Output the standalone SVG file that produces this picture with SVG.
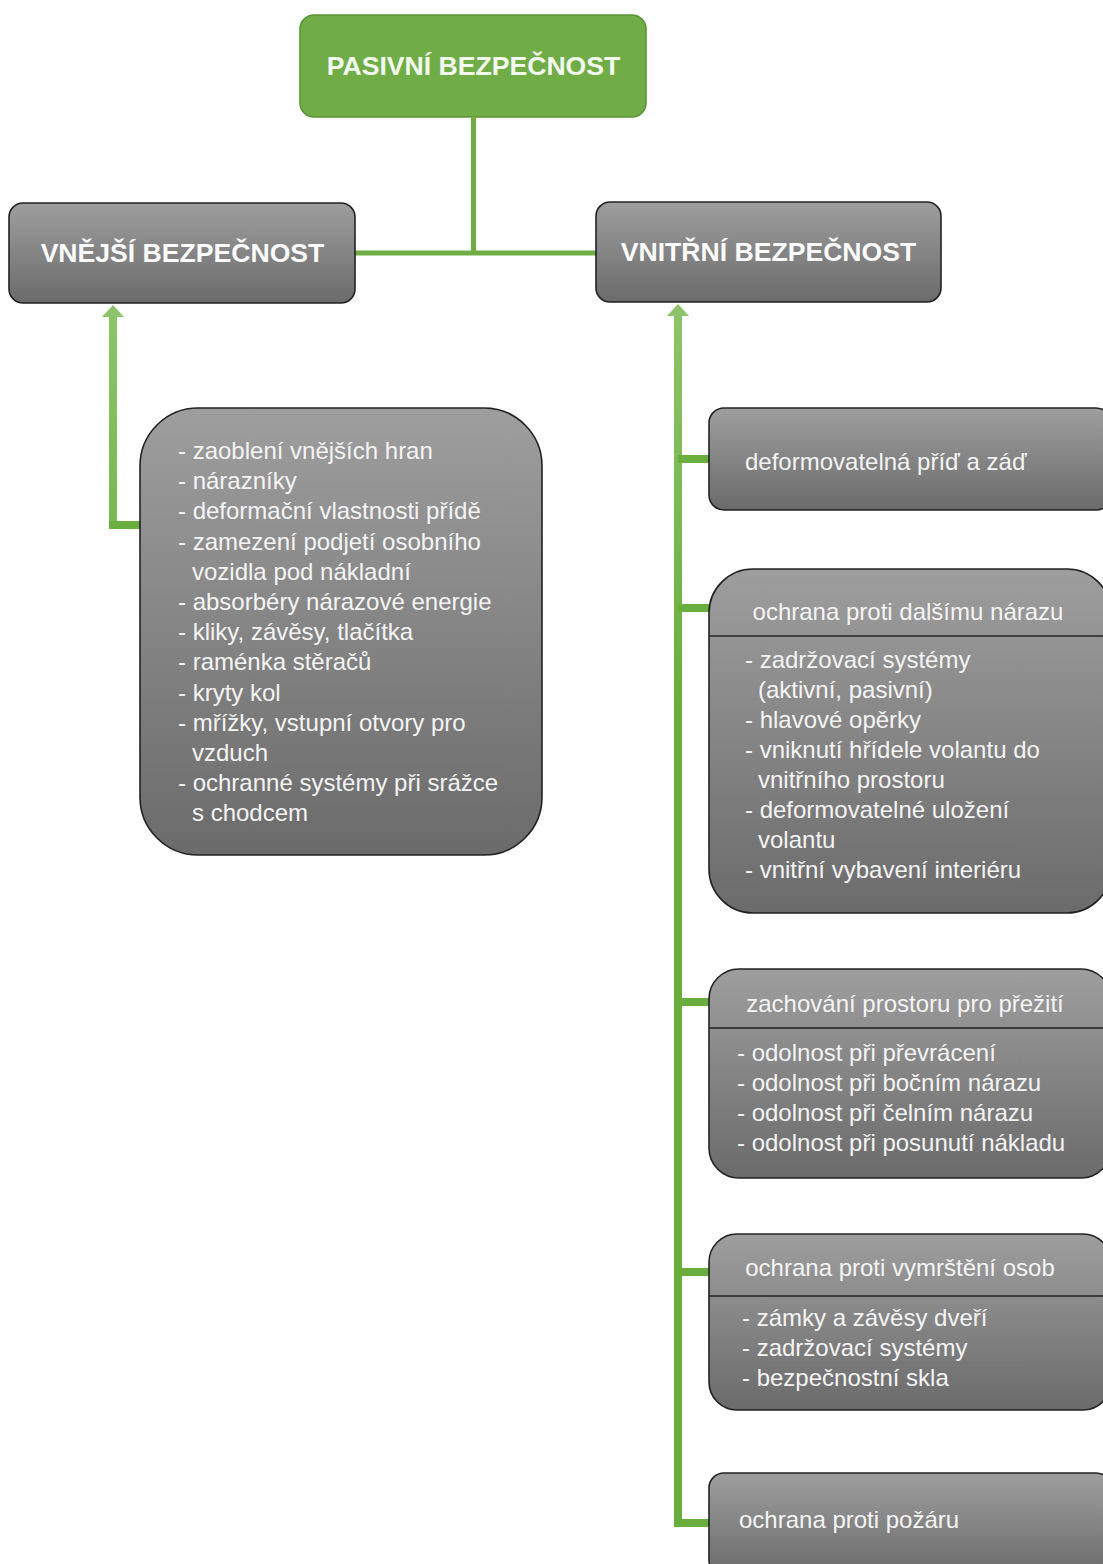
<svg xmlns="http://www.w3.org/2000/svg" width="1103" height="1564" viewBox="0 0 1103 1564">
<defs>
<linearGradient id="gray" x1="0" y1="0" x2="0" y2="1">
<stop offset="0" stop-color="#9e9e9e"/>
<stop offset="1" stop-color="#6b6b6b"/>
</linearGradient>
<linearGradient id="vl" gradientUnits="userSpaceOnUse" x1="0" y1="305" x2="0" y2="700">
<stop offset="0" stop-color="#8dc46b"/>
<stop offset="1" stop-color="#6aae3f"/>
</linearGradient>
</defs>
<style>
.g{fill:url(#gray);stroke:#222;stroke-width:1.6}
.top{fill:#70ad47;stroke:#5b9438;stroke-width:1.6}
.h{font-family:"Liberation Sans",Arial,sans-serif;font-weight:bold;font-size:26.6px;fill:#fbfbfb;text-anchor:middle}
.t{font-family:"Liberation Sans",Arial,sans-serif;font-size:24px;fill:#f4f4f4}
.c{text-anchor:middle}
.div{stroke:#222;stroke-width:1.6}
.ln{fill:none;stroke:#70ad47;stroke-width:5}
.lv{fill:none;stroke:url(#vl);stroke-width:8}
.lh{fill:none;stroke:#6aae3f;stroke-width:8}
.ah{fill:#8dc46b}
</style>

<g id="connectors">
<path class="ln" d="M473.5 118 V253 M355 253 H596"/>
<path class="lv" d="M113 314 V525"/>
<path class="lh" d="M109 525 H141"/>
<polygon class="ah" points="113,305 124,317 102,317"/>
<path class="lv" d="M678 313 V1527"/>
<path class="lh" d="M678 459 H710 M678 608 H710 M678 1002 H710 M678 1272 H710 M674 1523 H710"/>
<polygon class="ah" points="678,304 689,316 667,316"/>
</g>

<g id="pasivni">
<rect class="top" x="300" y="15" width="346" height="102" rx="14"/>
<text class="h" x="473.5" y="75" style="fill:#f3f9ee">PASIVNÍ BEZPEČNOST</text>
</g>

<g id="vnejsi">
<rect class="g" x="9" y="203" width="346" height="100" rx="14"/>
<text class="h" x="182.5" y="262">VNĚJŠÍ BEZPEČNOST</text>
</g>

<g id="vnitrni">
<rect class="g" x="596" y="202" width="345" height="100" rx="14"/>
<text class="h" x="768.5" y="261">VNITŘNÍ BEZPEČNOST</text>
</g>

<g id="vnejsi-list">
<rect class="g" x="140" y="408" width="402" height="447" rx="58"/>
<text class="t" x="178" y="459">- zaoblení vnějších hran</text>
<text class="t" x="178" y="489.2">- nárazníky</text>
<text class="t" x="178" y="519.4">- deformační vlastnosti přídě</text>
<text class="t" x="178" y="549.6">- zamezení podjetí osobního</text>
<text class="t" x="192" y="579.8">vozidla pod nákladní</text>
<text class="t" x="178" y="610">- absorbéry nárazové energie</text>
<text class="t" x="178" y="640.2">- kliky, závěsy, tlačítka</text>
<text class="t" x="178" y="670.4">- raménka stěračů</text>
<text class="t" x="178" y="700.6">- kryty kol</text>
<text class="t" x="178" y="730.8">- mřížky, vstupní otvory pro</text>
<text class="t" x="192" y="761">vzduch</text>
<text class="t" x="178" y="791.2">- ochranné systémy při srážce</text>
<text class="t" x="192" y="821.4">s chodcem</text>
</g>

<g id="deformovatelna">
<rect class="g" x="709" y="408" width="402" height="102" rx="15"/>
<text class="t" x="745" y="470">deformovatelná příď a záď</text>
</g>

<g id="dalsi-naraz">
<rect class="g" x="709" y="569" width="402" height="344" rx="44"/>
<line class="div" x1="709" y1="636" x2="1111" y2="636"/>
<text class="t c" x="908" y="620">ochrana proti dalšímu nárazu</text>
<text class="t" x="745" y="668">- zadržovací systémy</text>
<text class="t" x="758" y="698">(aktivní, pasivní)</text>
<text class="t" x="745" y="728">- hlavové opěrky</text>
<text class="t" x="745" y="758">- vniknutí hřídele volantu do</text>
<text class="t" x="758" y="788">vnitřního prostoru</text>
<text class="t" x="745" y="818">- deformovatelné uložení</text>
<text class="t" x="758" y="848">volantu</text>
<text class="t" x="745" y="878">- vnitřní vybavení interiéru</text>
</g>

<g id="prostor">
<rect class="g" x="709" y="969" width="402" height="209" rx="30"/>
<line class="div" x1="709" y1="1028" x2="1111" y2="1028"/>
<text class="t c" x="905" y="1012">zachování prostoru pro přežití</text>
<text class="t" x="737" y="1061">- odolnost při převrácení</text>
<text class="t" x="737" y="1091">- odolnost při bočním nárazu</text>
<text class="t" x="737" y="1121">- odolnost při čelním nárazu</text>
<text class="t" x="737" y="1151">- odolnost při posunutí nákladu</text>
</g>

<g id="vymrsteni">
<rect class="g" x="709" y="1234" width="402" height="176" rx="28"/>
<line class="div" x1="709" y1="1296" x2="1111" y2="1296"/>
<text class="t c" x="900" y="1276">ochrana proti vymrštění osob</text>
<text class="t" x="742" y="1326">- zámky a závěsy dveří</text>
<text class="t" x="742" y="1356">- zadržovací systémy</text>
<text class="t" x="742" y="1386">- bezpečnostní skla</text>
</g>

<g id="pozar">
<rect class="g" x="709" y="1473" width="402" height="102" rx="15"/>
<text class="t" x="739" y="1528">ochrana proti požáru</text>
</g>
</svg>
